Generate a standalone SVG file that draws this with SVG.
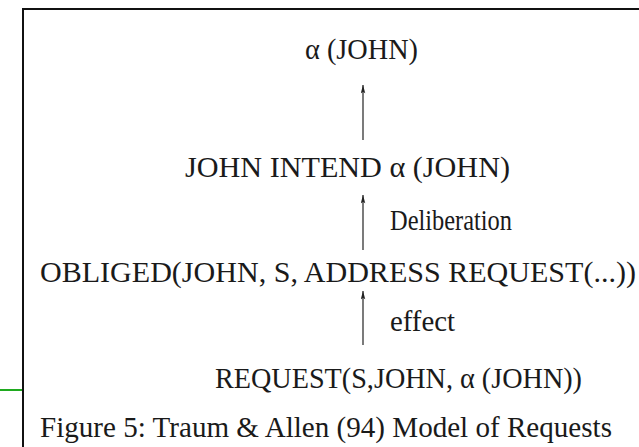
<svg xmlns="http://www.w3.org/2000/svg" width="639" height="447" viewBox="0 0 639 447">
  <defs>
    <marker id="head" viewBox="0 0 10 6" refX="10" refY="3" markerWidth="9" markerHeight="5" markerUnits="userSpaceOnUse" orient="auto">
      <path d="M10,3 L0,0.3 L2,3 L0,5.7 Z" fill="#222"/>
    </marker>
    <style>
      .t { font-family: "Liberation Serif", "DejaVu Serif", serif; font-size: 30px; fill: #1a1a1a; }
      .edge { stroke: #333; stroke-width: 1.3; fill: none; }
      .frame { stroke: #111; stroke-width: 2; fill: none; }
    </style>
  </defs>
  <rect width="639" height="447" fill="#fff"/>
  <!-- outer frame and the small green rule on the left -->
  <path class="frame" d="M23,447 V9 H639"/>
  <line x1="0" y1="390" x2="22" y2="390" stroke="#1faa1f" stroke-width="2"/>

  <g id="connectors">
    <line class="edge" x1="363" y1="140" x2="363" y2="85" marker-end="url(#head)"/>
    <line class="edge" x1="363" y1="250" x2="363" y2="195" marker-end="url(#head)"/>
    <line class="edge" x1="363" y1="345" x2="363" y2="291" marker-end="url(#head)"/>
    <text class="t" x="390" y="230" textLength="122" lengthAdjust="spacingAndGlyphs">Deliberation</text>
    <text class="t" x="390" y="331" textLength="65" lengthAdjust="spacingAndGlyphs">effect</text>
  </g>

  <g id="goal">
    <text class="t" x="305" y="59" textLength="113" lengthAdjust="spacingAndGlyphs">α (JOHN)</text>
  </g>
  <g id="intend">
    <text class="t" x="185" y="177" textLength="325" lengthAdjust="spacingAndGlyphs">JOHN INTEND α (JOHN)</text>
  </g>
  <g id="obliged">
    <text class="t" x="40" y="282" textLength="596" lengthAdjust="spacingAndGlyphs">OBLIGED(JOHN, S, ADDRESS REQUEST(...))</text>
  </g>
  <g id="request">
    <text class="t" x="215" y="388" textLength="367" lengthAdjust="spacingAndGlyphs">REQUEST(S,JOHN,  α (JOHN))</text>
  </g>
  <g id="caption">
    <text class="t" x="40" y="437" textLength="572" lengthAdjust="spacingAndGlyphs">Figure 5: Traum &amp; Allen (94) Model of Requests</text>
  </g>
</svg>
